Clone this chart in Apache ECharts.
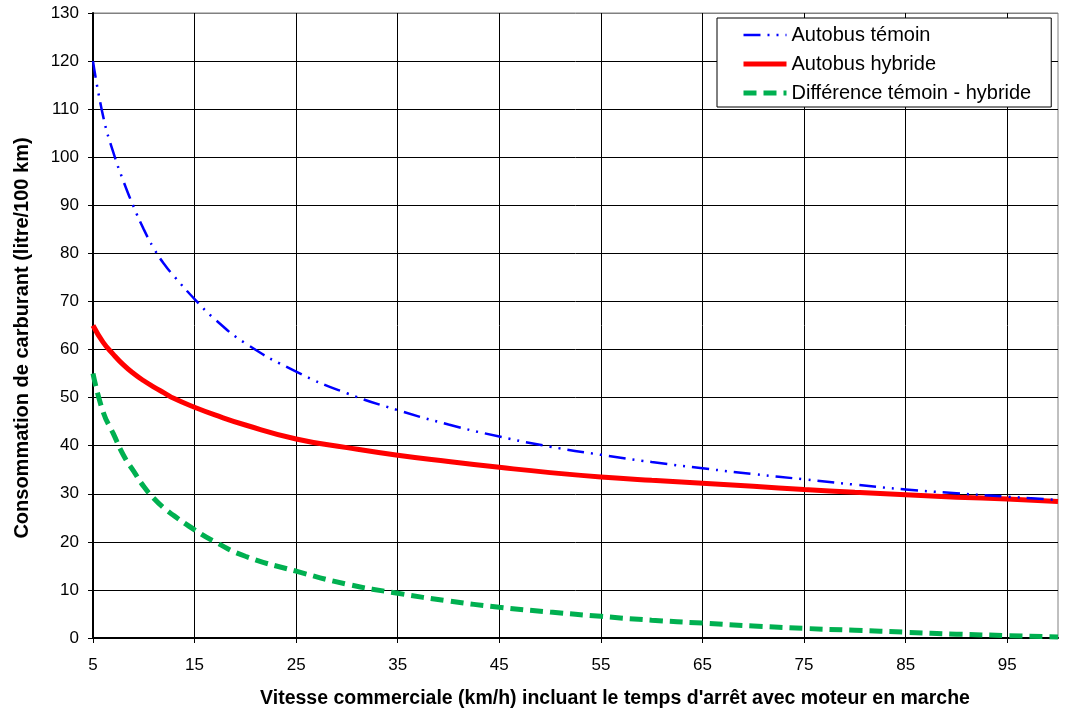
<!DOCTYPE html>
<html>
<head>
<meta charset="utf-8">
<title>Consommation de carburant</title>
<script src="https://cdn.jsdelivr.net/npm/echarts@6/dist/echarts.min.js"></script>
<style>
  html, body { margin: 0; padding: 0; background: #fff; }
  #chart { width: 1065px; height: 714px; }
</style>
</head>
<body>
<div id="chart"></div>
<script>
// Vitesse commerciale (km/h)
const speeds = [5, 6, 7, 8, 9, 10, 11, 12, 13, 15, 17, 20, 25, 30, 35, 40, 45, 50, 55, 60, 65, 70, 75, 80, 85, 90, 95, 100];
// Consommation (litre/100 km)
const temoin = [120, 108.5, 101, 95, 89.7, 85, 81, 77.8, 75.2, 70.5, 66.3, 61.3, 55.4, 50.9, 47.4, 44.4, 41.9, 39.8, 38.1, 36.6, 35.3, 34.1, 33.0, 31.9, 30.9, 30.1, 29.4, 28.7];
const hybride = [65, 61.5, 59, 56.8, 55, 53.5, 52.2, 51, 49.8, 48, 46.4, 44.3, 41.4, 39.6, 38, 36.7, 35.5, 34.4, 33.5, 32.8, 32.2, 31.55, 30.9, 30.3, 29.8, 29.3, 28.9, 28.4];
const difference = [55, 47, 42.5, 38, 34.7, 31.5, 29, 27, 25.4, 22.5, 20, 17, 13.9, 11.2, 9.3, 7.7, 6.4, 5.4, 4.5, 3.7, 3.1, 2.5, 2.0, 1.6, 1.2, 0.8, 0.5, 0.2];

const seriesNames = ['Autobus témoin', 'Autobus hybride', 'Différence témoin - hybride'];
const xTickValues = [5, 15, 25, 35, 45, 55, 65, 75, 85, 95];
const xTitle = "Vitesse commerciale (km/h) incluant le temps d'arrêt avec moteur en marche";
const yTitle = 'Consommation de carburant (litre/100 km)';

const FONT = '"Liberation Sans", Arial, sans-serif';

const lineStyles = [
  { color: '#0000FF', width: 2.5, type: [17, 7, 2, 7, 2, 7] },
  { color: '#FF0000', width: 5, type: 'solid' },
  { color: '#00B050', width: 5, type: [13, 7] }
];

function pairs(ys) {
  return speeds.map((x, i) => [x, ys[i]]);
}

const ySplitColors = [];
for (let v = 0; v <= 130; v += 10) ySplitColors.push(v === 130 ? '#808080' : '#000');

const chart = echarts.init(document.getElementById('chart'), null, { renderer: 'canvas' });

chart.setOption({
  backgroundColor: '#fff',
  animation: false,
  grid: {
    left: 93, right: 7, top: 13, bottom: 76,
    show: true, borderColor: '#808080', borderWidth: 1, backgroundColor: 'transparent'
  },
  legend: {
    orient: 'vertical',
    left: 717, top: 18,
    padding: [7, 20, 4, 24],
    itemWidth: 43, itemHeight: 14, itemGap: 9,
    backgroundColor: '#fff',
    borderColor: '#000', borderWidth: 1,
    itemStyle: { opacity: 0 },
    textStyle: { fontFamily: FONT, fontSize: 20, color: '#000' },
    data: seriesNames.map((name, i) => ({
      name: name,
      itemStyle: { opacity: 0 },
      lineStyle: { width: lineStyles[i].width, color: lineStyles[i].color, type: lineStyles[i].type }
    }))
  },
  xAxis: {
    type: 'value',
    min: 5, max: 100,
    axisLine: { show: true, onZero: false, lineStyle: { color: '#000', width: 2 } },
    axisTick: { show: true, inside: false, length: 5, customValues: xTickValues, lineStyle: { color: '#000' } },
    axisLabel: { customValues: xTickValues, margin: 19, fontFamily: FONT, fontSize: 17, color: '#000' },
    splitLine: { show: true, lineStyle: { color: '#000', width: 1 } }
  },
  yAxis: {
    type: 'value',
    min: 0, max: 130, interval: 10,
    axisLine: { show: true, onZero: false, lineStyle: { color: '#000', width: 2 } },
    axisTick: { show: true, inside: false, length: 5, lineStyle: { color: '#000' } },
    axisLabel: { margin: 14, fontFamily: FONT, fontSize: 17, color: '#000' },
    splitLine: { show: true, lineStyle: { color: ySplitColors, width: 1 } }
  },
  graphic: [
    {
      type: 'text',
      x: 615, y: 699,
      style: {
        text: xTitle, fontFamily: FONT, fontSize: 19.5, fontWeight: 'bold',
        fill: '#000', align: 'center', verticalAlign: 'middle'
      }
    },
    {
      type: 'text',
      x: 22, y: 338,
      rotation: Math.PI / 2,
      style: {
        text: yTitle, fontFamily: FONT, fontSize: 20, fontWeight: 'bold',
        fill: '#000', align: 'center', verticalAlign: 'middle'
      }
    }
  ],
  series: [
    {
      name: seriesNames[0],
      type: 'line',
      data: pairs(temoin),
      showSymbol: false, symbol: 'none',
      smooth: true,
      z: 4,
      lineStyle: lineStyles[0],
      itemStyle: { color: lineStyles[0].color }
    },
    {
      name: seriesNames[1],
      type: 'line',
      data: pairs(hybride),
      showSymbol: false, symbol: 'none',
      smooth: true,
      z: 3,
      lineStyle: lineStyles[1],
      itemStyle: { color: lineStyles[1].color }
    },
    {
      name: seriesNames[2],
      type: 'line',
      data: pairs(difference),
      showSymbol: false, symbol: 'none',
      smooth: true,
      z: 3,
      lineStyle: lineStyles[2],
      itemStyle: { color: lineStyles[2].color }
    }
  ]
});
</script>
</body>
</html>
